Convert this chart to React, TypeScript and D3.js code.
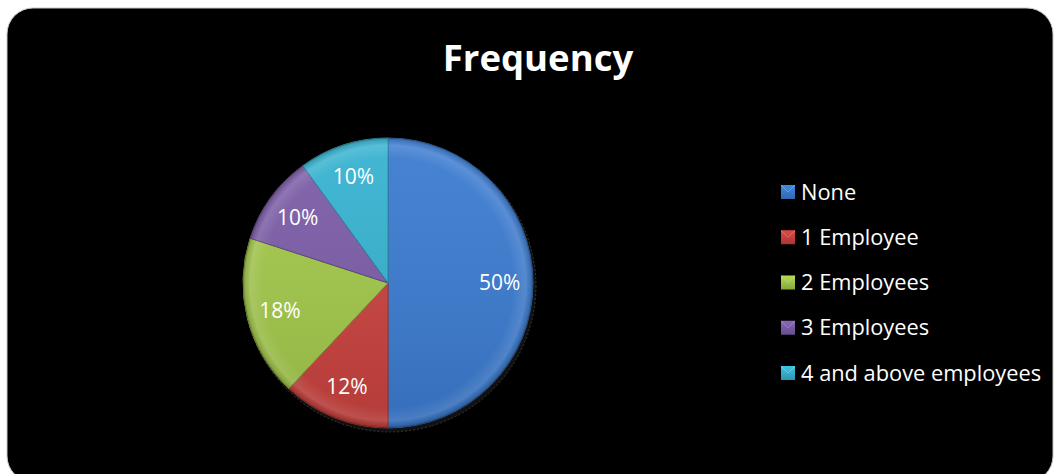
import React from "react";
import * as d3 from "d3";

const categories = ["None", "1 Employee", "2 Employees", "3 Employees", "4 and above employees"];
const values = [50, 12, 18, 10, 10];
const colors = ["#3b7bd0", "#c9423e", "#a2c74a", "#7b5ca7", "#36b2d0"];
const title = "Frequency";

const W = 1055;
const H = 474;
const cx = 388;
const cy = 283;
const R = 145;
const FONT = "'Open Sans', Lato, sans-serif";

export default function App() {
  const pie = d3.pie<number>().sort(null).value((d) => d);
  const arcs = pie(values);
  const arc = d3.arc<d3.PieArcDatum<number>>().innerRadius(0).outerRadius(R);
  const labelArc = d3.arc<d3.PieArcDatum<number>>().innerRadius(R * 0.77).outerRadius(R * 0.77);
  const total = d3.sum(values);

  const legendY = d3.scalePoint<string>().domain(categories).range([192, 373]);

  return (
    <svg width={W} height={H} style={{ position: "absolute", left: 0, top: 0 }}>
      <defs>
        <radialGradient id="rim" cx="0" cy="0" r={R} gradientUnits="userSpaceOnUse">
          <stop offset="0.86" stopColor="#fff" stopOpacity="0" />
          <stop offset="0.95" stopColor="#fff" stopOpacity="0.12" />
          <stop offset="0.985" stopColor="#000" stopOpacity="0.1" />
          <stop offset="1" stopColor="#000" stopOpacity="0.3" />
        </radialGradient>
        <linearGradient id="shade" x1="0" y1={-R} x2="0" y2={R} gradientUnits="userSpaceOnUse">
          <stop offset="0" stopColor="#fff" stopOpacity="0.06" />
          <stop offset="1" stopColor="#000" stopOpacity="0.1" />
        </linearGradient>
        {colors.map((c, i) => (
          <linearGradient key={i} id={`leg${i}`} x1="0" y1="0" x2="0" y2="1">
            <stop offset="0" stopColor={d3.color(c)!.brighter(0.3).toString()} />
            <stop offset="1" stopColor={d3.color(c)!.darker(0.5).toString()} />
          </linearGradient>
        ))}
      </defs>
      <rect x={0} y={0} width={W} height={H} fill="#fff" />
      <rect x={7} y={8} width={1046} height={474} rx={26} fill="#000" stroke="#c8c8c8" strokeWidth={1} />
      <text x={538} y={71} textAnchor="middle" fill="#fff" fontFamily={FONT} fontWeight={700} fontSize={36.5}>
        {title}
      </text>
      <g transform={`translate(${cx},${cy})`}>
        <circle cx={2} cy={3} r={R + 1} fill="#111" stroke="#555" strokeWidth={0.6} strokeDasharray="2 2" />
        {arcs.map((a, i) => (
          <g key={i}>
            <path d={arc(a) || ""} fill={colors[i]} stroke={d3.color(colors[i])!.darker(0.8).toString()} strokeWidth={1} />
            <path d={arc(a) || ""} fill="url(#rim)" />
            <path d={arc(a) || ""} fill="url(#shade)" />
          </g>
        ))}
        {arcs.map((a, i) => {
          const [x, y] = labelArc.centroid(a);
          return (
            <text key={i} x={x} y={y} dy="0.35em" textAnchor="middle" fill="#fff" fontFamily={FONT} fontSize={21}>
              {`${Math.round((a.data / total) * 100)}%`}
            </text>
          );
        })}
      </g>
      <g>
        {categories.map((c, i) => {
          const y = legendY(c)!;
          return (
            <g key={c}>
              <rect x={781} y={y - 7} width={14} height={14} fill={`url(#leg${i})`} />
              <path d={`M${781},${y - 7}L${788},${y}L${795},${y - 7}`} fill="none" stroke="#fff" strokeOpacity={0.25} strokeWidth={1} />
              <text x={801} y={y} dy="0.35em" fill="#fff" fontFamily={FONT} fontSize={21.8}>
                {c}
              </text>
            </g>
          );
        })}
      </g>
    </svg>
  );
}
